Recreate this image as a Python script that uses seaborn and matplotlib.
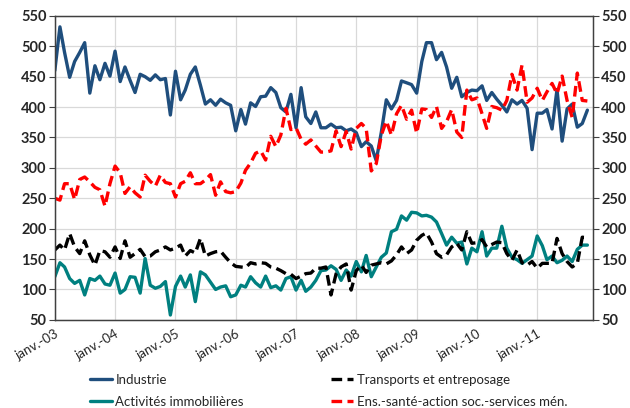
import matplotlib
matplotlib.use('Agg')
import matplotlib.pyplot as plt
import numpy as np
import pandas as pd
import seaborn as sns

sns.set_style('white')
plt.rcParams['font.family'] = ['Lato', 'DejaVu Sans']

# monthly series, janv. 2003 -> nov. 2011
industrie = [460, 532, 490, 449, 475, 490, 506, 423, 468, 445, 472, 451,
             492, 442, 466, 444, 424, 454, 450, 444, 453, 445, 447, 387,
             459, 412, 428, 454, 466, 436, 405, 412, 403, 413, 407, 403,
             361, 396, 372, 407, 401, 417, 418, 432, 424, 399, 392, 421,
             366, 432, 384, 373, 392, 366, 366, 372, 366, 367, 361, 364,
             358, 335, 343, 336, 312, 359, 412, 397, 411, 443, 440, 437,
             423, 475, 506, 506, 478, 490, 466, 431, 449, 417, 424, 428,
             427, 435, 411, 424, 413, 403, 392, 412, 405, 411, 398, 330,
             390, 390, 396, 364, 429, 344, 397, 405, 367, 373, 395]
transports = [165, 173, 165, 192, 170, 159, 180, 157, 140, 164, 162, 153,
              170, 151, 180, 153, 159, 166, 154, 155, 162, 165, 170, 165,
              168, 173, 155, 164, 160, 184, 155, 159, 162, 163, 153, 144,
              138, 137, 136, 144, 142, 144, 143, 137, 135, 131, 126, 125,
              118, 122, 126, 127, 135, 135, 137, 91, 126, 137, 142, 99,
              131, 140, 128, 140, 142, 144, 142, 147, 157, 170, 159, 165,
              181, 189, 193, 178, 159, 153, 157, 170, 176, 165, 195, 176,
              177, 182, 170, 174, 178, 177, 159, 148, 165, 144, 140, 146,
              135, 143, 143, 143, 184, 159, 146, 137, 143, 186, 185]
immobilier = [121, 144, 137, 118, 110, 115, 91, 118, 115, 122, 109, 107,
              127, 94, 100, 121, 120, 94, 151, 107, 102, 105, 113, 58,
              105, 122, 104, 124, 80, 129, 124, 112, 100, 104, 106, 88,
              91, 107, 104, 121, 111, 104, 122, 103, 106, 99, 118, 121,
              99, 115, 97, 104, 115, 131, 132, 139, 133, 115, 132, 122,
              146, 129, 156, 121, 137, 153, 160, 195, 199, 221, 214, 227,
              226, 221, 222, 219, 211, 192, 173, 186, 176, 178, 142, 168,
              162, 195, 155, 168, 168, 204, 168, 153, 149, 143, 149, 155,
              188, 172, 149, 155, 144, 148, 155, 146, 166, 173, 173]
ens_sante = [250, 247, 274, 274, 248, 281, 285, 277, 268, 264, 237, 274,
             303, 292, 258, 269, 259, 252, 288, 278, 270, 288, 276, 274,
             252, 274, 278, 292, 274, 274, 280, 289, 255, 277, 261, 259,
             261, 275, 296, 308, 324, 328, 313, 352, 335, 354, 398, 363,
             366, 347, 339, 346, 336, 326, 326, 328, 361, 335, 360, 331,
             365, 373, 365, 295, 307, 354, 377, 354, 389, 403, 380, 395,
             357, 397, 396, 383, 401, 365, 376, 396, 359, 350, 428, 412,
             415, 389, 365, 401, 399, 395, 411, 454, 428, 469, 408, 415,
             431, 411, 425, 439, 422, 451, 411, 383, 456, 411, 410]

dates = pd.date_range('2003-01-01', periods=len(industrie), freq='MS')
df = pd.DataFrame({'date': dates, 'Industrie': industrie,
                   'Transports et entreposage': transports,
                   'Activités immobilières': immobilier,
                   'Ens.-santé-action soc.-services mén.': ens_sante})

styles = {
    'Industrie': ('#1F4E7D', None),
    'Activités immobilières': ('#008080', None),
    'Transports et entreposage': ('#000000', (3.2, 1.6)),
    'Ens.-santé-action soc.-services mén.': ('#FF0000', (3.2, 1.6)),
}

fig = plt.figure(figsize=(6.3, 4.08), dpi=100)
ax = fig.add_axes([0.087, 0.216, 0.854, 0.745])

for name, (color, dash) in styles.items():
    sns.lineplot(data=df, x='date', y=name, ax=ax, color=color, lw=2.4, label=name)
    if dash:
        ax.lines[-1].set_dashes(dash)

ax.set_xlim(dates[0], pd.Timestamp('2011-12-04'))
ax.set_ylim(50, 550)
yt = np.arange(50, 551, 50)
ax.set_yticks(yt)
ax.set_yticklabels([str(v) for v in yt], fontweight='bold', fontsize=10.5)
jan = [d for d in dates if d.month == 1]
ax.set_xticks(jan)
ax.set_xticklabels([f"janv.-{d:%y}" for d in jan], rotation=30, ha='right',
                   fontsize=9.5, rotation_mode='anchor')
ax.set_xlabel('')
ax.set_ylabel('')
ax.grid(True, color='#d9d9d9', lw=0.9)
ax.set_axisbelow(True)
for sp in ax.spines.values():
    sp.set_color('#404040')
    sp.set_linewidth(1.0)
ax.tick_params(axis='both', direction='out', length=4, color='#404040', pad=2)

ax2 = ax.twinx()
ax2.set_ylim(50, 550)
ax2.set_yticks(yt)
ax2.set_yticklabels([str(v) for v in yt], fontweight='bold', fontsize=10.5)
ax2.tick_params(axis='y', direction='out', length=4, color='#404040', pad=2)
for sp in ax2.spines.values():
    sp.set_color('#404040')

handles, labels = ax.get_legend_handles_labels()
order = [labels.index(n) for n in styles]
ax.legend([handles[i] for i in order], [labels[i] for i in order],
          ncol=2, loc='upper left', bbox_to_anchor=(0.055, -0.16),
          frameon=False, fontsize=9.5, handlelength=1.7, handletextpad=0.25,
          columnspacing=6.6, labelspacing=0.75, borderaxespad=0)

fig.savefig('out.png', dpi=100)
